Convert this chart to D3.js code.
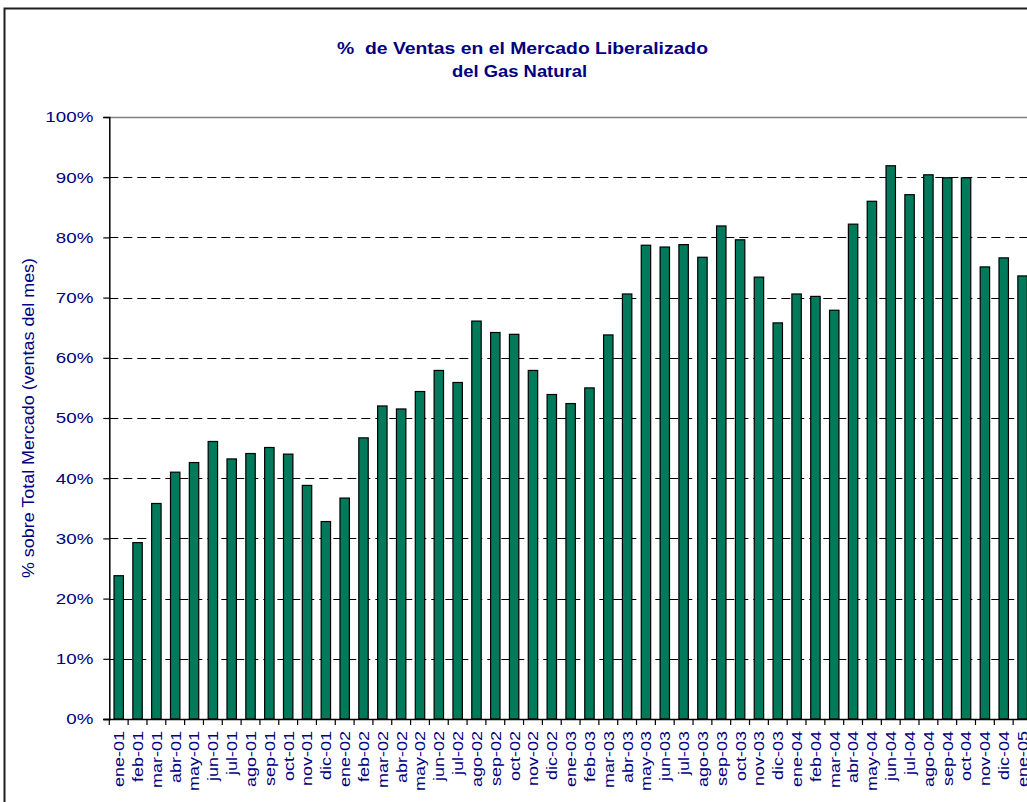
<!DOCTYPE html>
<html>
<head>
<meta charset="utf-8">
<script src="https://cdn.jsdelivr.net/npm/d3@7"></script>
<style>
  body { margin: 0; background: #fff; }
  svg { display: block; }
  text { font-family: "Liberation Sans", Arial, sans-serif; }
</style>
</head>
<body>
<script>
// month labels (ene-01 .. ene-05)
let months = ["ene-01", "feb-01", "mar-01", "abr-01", "may-01", "jun-01", "jul-01", "ago-01", "sep-01", "oct-01", "nov-01", "dic-01",
              "ene-02", "feb-02", "mar-02", "abr-02", "may-02", "jun-02", "jul-02", "ago-02", "sep-02", "oct-02", "nov-02", "dic-02",
              "ene-03", "feb-03", "mar-03", "abr-03", "may-03", "jun-03", "jul-03", "ago-03", "sep-03", "oct-03", "nov-03", "dic-03",
              "ene-04", "feb-04", "mar-04", "abr-04", "may-04", "jun-04", "jul-04", "ago-04", "sep-04", "oct-04", "nov-04", "dic-04",
              "ene-05"];

// % of sales in the liberalised market
let shares = [0.238, 0.293, 0.358, 0.410, 0.426, 0.461, 0.432, 0.441, 0.451, 0.440, 0.388, 0.328,
              0.367, 0.467, 0.520, 0.515, 0.544, 0.579, 0.559, 0.661, 0.642, 0.639, 0.579, 0.539,
              0.524, 0.550, 0.638, 0.706, 0.787, 0.784, 0.788, 0.767, 0.819, 0.796, 0.734, 0.658,
              0.706, 0.702, 0.679, 0.822, 0.860, 0.919, 0.871, 0.904, 0.899, 0.899, 0.751, 0.766,
              0.736];

let y_ticks = [0, 0.1, 0.2, 0.3, 0.4, 0.5, 0.6, 0.7, 0.8, 0.9, 1.0];

let title_lines = ["%  de Ventas en el Mercado Liberalizado", "del Gas Natural"];
let y_title = "% sobre Total Mercado (ventas del mes)";

// Stage
let width = 1027;
let height = 802;

let svg = d3.select("body")
            .append("svg")
            .attr("width", width)
            .attr("height", height);

// Colours
let bar_color = "#017a5b";
let text_color = "#000080";
let frame_color = "#1e1e1e";

let plot_left = 109.3;
let plot_top = 117;
let plot_bottom = 719;
let step = 18.83;
let plot_right = plot_left + months.length * step;

// Outer frame (cut by the window on the right and bottom)
svg.append("rect")
    .attr("x", 4.5)
    .attr("y", 8.5)
    .attr("width", 1100)
    .attr("height", 900)
    .attr("fill", "none")
    .attr("stroke", frame_color)
    .attr("stroke-width", 2);

let x = d3.scaleBand()
            .domain(months)
            .range([plot_left, plot_right])
            .paddingInner(0.5)
            .paddingOuter(0.25);

let y = d3.scaleLinear()
            .domain([0, 1])
            .range([plot_bottom, plot_top]);

// Title
svg.selectAll(".title")
    .data(title_lines)
    .enter()
    .append("text")
    .attr("class", "title")
    .attr("x", (d, i) => i == 0 ? 522.5 : 519.5)
    .attr("y", (d, i) => 54 + i * 23)
    .attr("text-anchor", "middle")
    .attr("font-size", 17)
    .attr("font-weight", "bold")
    .attr("fill", text_color)
    .style("white-space", "pre")
    .attr("textLength", (d, i) => i == 0 ? 371 : 135)
    .attr("lengthAdjust", "spacingAndGlyphs")
    .text(d => d);

// Plot area top border
svg.append("line")
    .attr("x1", plot_left)
    .attr("x2", width + 10)
    .attr("y1", y(1) + 0.5)
    .attr("y2", y(1) + 0.5)
    .attr("stroke", "#808080")
    .attr("stroke-width", 1.5);

// Dashed gridlines
svg.append("g")
    .selectAll("line")
    .data(y_ticks.filter(d => d > 0 && d < 1))
    .enter()
    .append("line")
    .attr("x1", plot_left)
    .attr("x2", width + 10)
    .attr("y1", d => Math.round(y(d)) + 0.5)
    .attr("y2", d => Math.round(y(d)) + 0.5)
    .attr("stroke", "#000")
    .attr("stroke-width", 1)
    .attr("stroke-dasharray", "9,5");

// Bars
svg.append("g")
    .selectAll("rect")
    .data(shares)
    .enter()
    .append("rect")
    .attr("x", (d, i) => x(months[i]))
    .attr("y", d => y(d))
    .attr("width", x.bandwidth())
    .attr("height", d => y(0) - y(d))
    .attr("fill", bar_color)
    .attr("stroke", "#000")
    .attr("stroke-width", 1.2);

// Y axis
let y_axis = svg.append("g")
                .attr("transform", "translate(" + plot_left + ",0)")
                .call(d3.axisLeft(y)
                        .tickValues(y_ticks)
                        .tickSize(6)
                        .tickFormat(d3.format(".0%")));

y_axis.select(".domain").attr("stroke", "#000").attr("stroke-width", 1.5);
y_axis.selectAll(".tick line").attr("stroke", "#000").attr("stroke-width", 1.2);
y_axis.selectAll(".tick text")
        .attr("fill", text_color)
        .attr("font-size", 15)
        .attr("font-family", "Liberation Sans, Arial, sans-serif")
        .attr("x", -16 / 1.25)
        .attr("transform", "scale(1.25,1)");

// X axis: ticks between categories, labels under bars
let x_axis = svg.append("g")
                .attr("transform", "translate(0," + plot_bottom + ")")
                .call(d3.axisBottom(x).tickSize(0).tickPadding(0));

x_axis.select(".domain").remove();

x_axis.append("line")
        .attr("x1", plot_left - 6)
        .attr("x2", width + 10)
        .attr("y1", 0.5)
        .attr("y2", 0.5)
        .attr("stroke", "#000")
        .attr("stroke-width", 1.5);

let boundaries = months.map(m => x(m) - step * 0.25).concat([plot_right]);

x_axis.selectAll(".boundary")
        .data(boundaries)
        .enter()
        .append("line")
        .attr("class", "boundary")
        .attr("x1", d => d)
        .attr("x2", d => d)
        .attr("y1", 0)
        .attr("y2", 6)
        .attr("stroke", "#000")
        .attr("stroke-width", 1.2);

x_axis.selectAll(".tick text")
        .attr("fill", text_color)
        .attr("font-size", 15)
        .attr("font-family", "Liberation Sans, Arial, sans-serif")
        .attr("text-anchor", "end")
        .attr("x", -12 / 1.2)
        .attr("y", 0)
        .attr("dy", "0.36em")
        .attr("transform", "rotate(-90) scale(1.2,1)");

// Y axis title
svg.append("text")
    .attr("transform", "translate(34," + (plot_top + plot_bottom) / 2 + ") rotate(-90) scale(1.12,1)")
    .attr("text-anchor", "middle")
    .attr("font-size", 16)
    .attr("fill", text_color)
    .text(y_title);
</script>
</body>
</html>
